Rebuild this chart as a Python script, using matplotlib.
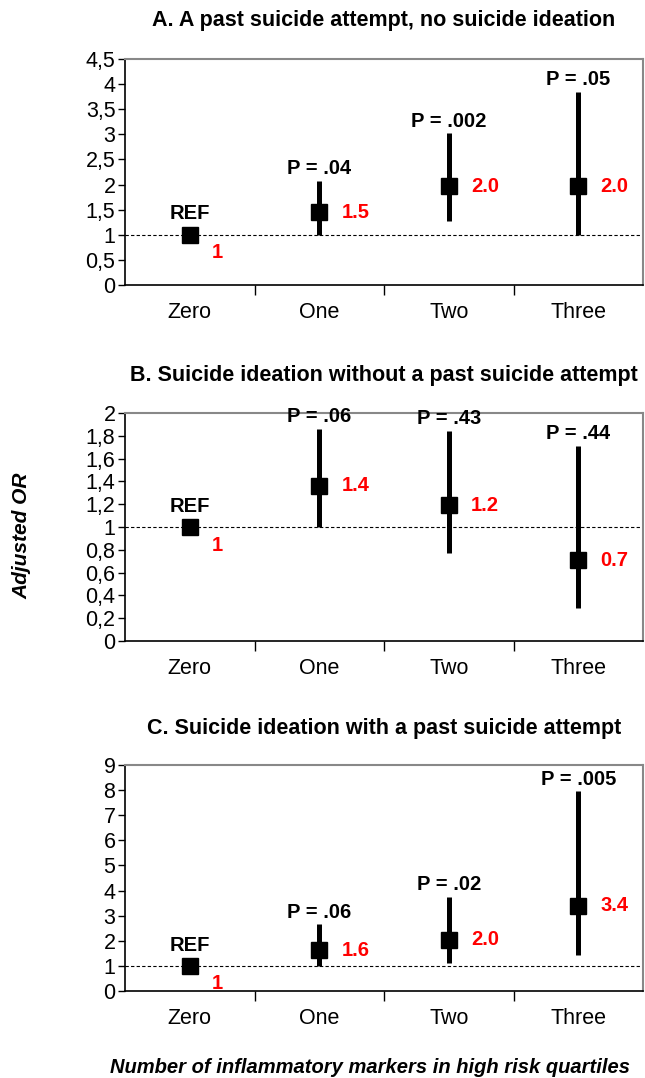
import numpy as np
import matplotlib
matplotlib.use('Agg')
import matplotlib.pyplot as plt

plt.rcParams['font.family'] = ['Liberation Sans', 'DejaVu Sans']

cats = ['Zero', 'One', 'Two', 'Three']

titles = ['A. A past suicide attempt, no suicide ideation',
          'B. Suicide ideation without a past suicide attempt',
          'C. Suicide ideation with a past suicide attempt']

or_a = [1, 1.45, 1.97, 1.97]
lo_a = [1, 1.0, 1.28, 1.0]
hi_a = [1, 2.07, 3.02, 3.85]
lab_a = ['1', '1.5', '2.0', '2.0']
p_a = ['REF', 'P = .04', 'P = .002', 'P = .05']

or_b = [1, 1.36, 1.19, 0.71]
lo_b = [1, 1.0, 0.77, 0.29]
hi_b = [1, 1.86, 1.84, 1.71]
lab_b = ['1', '1.4', '1.2', '0.7']
p_b = ['REF', 'P = .06', 'P = .43', 'P = .44']

or_c = [1, 1.62, 2.05, 3.4]
lo_c = [1, 1.0, 1.1, 1.45]
hi_c = [1, 2.65, 3.75, 7.95]
lab_c = ['1', '1.6', '2.0', '3.4']
p_c = ['REF', 'P = .06', 'P = .02', 'P = .005']

panels = [
    (or_a, lo_a, hi_a, lab_a, p_a, 4.5, 0.5, 1),
    (or_b, lo_b, hi_b, lab_b, p_b, 2.0, 0.2, 1),
    (or_c, lo_c, hi_c, lab_c, p_c, 9.0, 1.0, 0),
]

fig = plt.figure(figsize=(6.45, 10.78), dpi=100)
boxes = [(0.194, 0.7356, 0.803, 0.2097),
         (0.194, 0.4054, 0.803, 0.2115),
         (0.194, 0.0807, 0.803, 0.2097)]
pads = [24, 23, 22]

for k, (vals, lo, hi, labs, ps, ymax, step, dec) in enumerate(panels):
    ax = fig.add_axes(boxes[k])
    x = np.arange(len(cats))
    ax.axhline(1, color='black', lw=0.8, ls=(0, (3, 2)), zorder=1)
    for i in range(1, len(cats)):
        ax.vlines(x[i], lo[i], hi[i], color='black', lw=3.6, zorder=2)
    ax.plot(x, vals, 's', color='black', ms=11.5, zorder=3)
    for i in range(len(cats)):
        top = hi[i] if i > 0 else vals[i]
        off = 0.05 * ymax if i == 0 else 0.012 * ymax
        ax.text(x[i], top + off, ps[i], ha='center', va='bottom',
                fontsize=14.5, fontweight='bold')
        dy = -0.08 * ymax if i == 0 else 0
        ax.text(x[i] + 0.17, vals[i] + dy, labs[i], ha='left', va='center',
                fontsize=14.5, fontweight='bold', color='red')
    ax.set_xlim(-0.5, 3.5)
    ax.set_ylim(0, ymax)
    ticks = np.arange(0, ymax + step / 2, step)
    ax.set_yticks(ticks)
    if dec:
        ax.set_yticklabels([('%g' % t).replace('.', ',') for t in ticks])
    else:
        ax.set_yticklabels(['%d' % t for t in ticks])
    ax.set_xticks([0.5, 1.5, 2.5])
    ax.set_xticklabels([])
    ax.tick_params(axis='x', length=7, width=1, direction='out')
    ax.tick_params(axis='y', length=5, width=1, direction='out', labelsize=15.5, pad=2)
    for i, c in enumerate(cats):
        ax.text(x[i], -0.12, c, transform=ax.get_xaxis_transform(),
                ha='center', va='center', fontsize=15.5)
    for s in ['top', 'right']:
        ax.spines[s].set_color('#888888')
        ax.spines[s].set_linewidth(1.5)
    for s in ['left', 'bottom']:
        ax.spines[s].set_color('black')
        ax.spines[s].set_linewidth(1.2)
    ax.set_title(titles[k], fontsize=15.5, fontweight='bold', pad=pads[k])

fig.text(0.034, 0.503, 'Adjusted OR', rotation=90, ha='center', va='center',
         fontsize=15, fontweight='bold', style='italic')
fig.text(0.574, 0.01, 'Number of inflammatory markers in high risk quartiles',
         ha='center', va='center', fontsize=14.5, fontweight='bold', style='italic')

fig.savefig('out.png', dpi=100)
